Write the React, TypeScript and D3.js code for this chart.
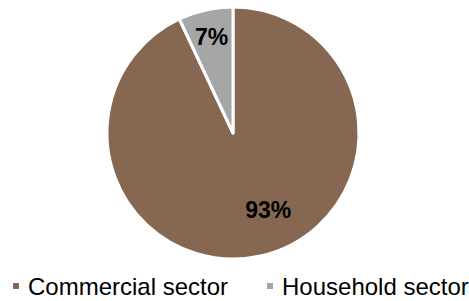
import React, { useEffect, useRef } from "react";
import * as d3 from "d3";

const categories = ["Commercial sector", "Household sector"];
const shares = [93, 7];
const labels = ["93%", "7%"];

const colors = ["#866852", "#A6A6A6"];

const App = () => {
  const ref = useRef<SVGSVGElement>(null);
  const width = 469;
  const height = 301;
  const cx = 233;
  const cy = 133;
  const radius = 126;

  useEffect(() => {
    const svg = d3.select(ref.current);
    svg.selectAll("*").remove();

    const data = categories.map((c, i) => ({ name: c, value: shares[i], label: labels[i] }));

    const pie = d3.pie<any>().sort(null).value((d) => d.value);
    const arcs = pie(data);

    const arc = d3.arc<any>().innerRadius(0).outerRadius(radius);

    const g = svg.append("g").attr("transform", `translate(${cx},${cy})`);

    g.selectAll(".slice")
      .data(arcs)
      .enter()
      .append("path")
      .attr("class", "slice")
      .attr("d", arc)
      .style("fill", (d, i) => colors[i])
      .style("stroke", "white")
      .style("stroke-width", "3px")
      .style("stroke-linejoin", "round");

    // label placement roughly like excel does it
    const labelR = [0.67, 0.78];
    const angleShift = [-0.21, 0];
    g.selectAll(".lbl")
      .data(arcs)
      .enter()
      .append("text")
      .attr("class", "lbl")
      .attr("transform", (d, i) => {
        const a = (d.startAngle + d.endAngle) / 2 + angleShift[i];
        const r = radius * labelR[i];
        return `translate(${r * Math.sin(a)},${-r * Math.cos(a)})`;
      })
      .attr("text-anchor", "middle")
      .attr("dy", "0.36em")
      .style("font-family", "Liberation Sans, Arial, sans-serif")
      .style("font-weight", "bold")
      .style("font-size", "23px")
      .style("fill", "#000")
      .text((d) => d.data.label);

    // legend
    const legendX = [13, 267];
    const legendY = 286;
    const leg = svg.selectAll(".leg")
      .data(data)
      .enter()
      .append("g")
      .attr("class", "leg")
      .attr("transform", (d, i) => `translate(${legendX[i]},${legendY})`);

    leg.append("rect")
      .attr("x", 0)
      .attr("y", -3)
      .attr("width", 6)
      .attr("height", 6)
      .style("fill", (d, i) => colors[i]);

    leg.append("text")
      .attr("x", 15)
      .attr("dy", "0.36em")
      .style("font-family", "Liberation Sans, Arial, sans-serif")
      .style("font-size", "24px")
      .style("fill", "#000")
      .text((d) => d.name);
  }, []);

  return (
    <svg
      ref={ref}
      width={width}
      height={height}
      style={{ position: "absolute", left: 0, top: 0, background: "white" }}
    />
  );
};

export default App;
